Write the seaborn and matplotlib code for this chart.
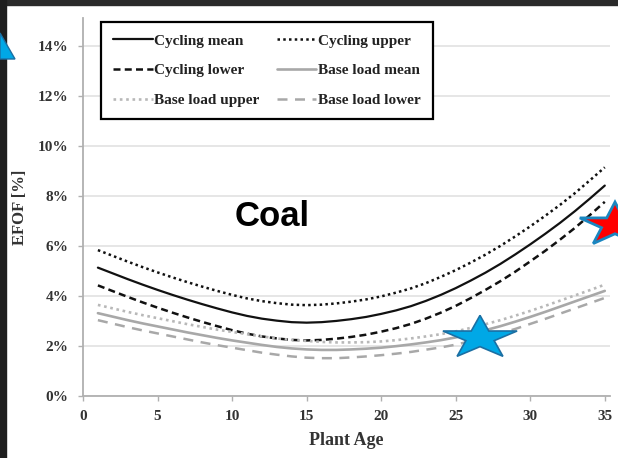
import numpy as np
import pandas as pd
import matplotlib
matplotlib.use("Agg")
import matplotlib.pyplot as plt
from matplotlib.patches import Polygon, Rectangle
from matplotlib.ticker import FuncFormatter
import seaborn as sns

# ---------------- data ----------------
ages = list(range(1, 36))
cycling_mean = [5.12, 4.89, 4.66, 4.44, 4.23, 4.03, 3.84, 3.66, 3.49, 3.33,
                3.19, 3.08, 3.00, 2.94, 2.92, 2.94, 2.99, 3.06, 3.15, 3.27,
                3.41, 3.58, 3.79, 4.03, 4.30, 4.60, 4.92, 5.27, 5.65, 6.05,
                6.47, 6.91, 7.38, 7.88, 8.40]
cycling_upper = [5.82, 5.59, 5.36, 5.14, 4.93, 4.73, 4.54, 4.36, 4.19, 4.03,
                 3.89, 3.78, 3.70, 3.64, 3.62, 3.64, 3.69, 3.76, 3.85, 3.97,
                 4.12, 4.29, 4.50, 4.75, 5.02, 5.32, 5.64, 5.99, 6.37, 6.77,
                 7.19, 7.63, 8.10, 8.61, 9.13]
cycling_lower = [4.41, 4.18, 3.95, 3.73, 3.52, 3.32, 3.13, 2.95, 2.78, 2.62,
                 2.48, 2.37, 2.29, 2.23, 2.21, 2.23, 2.28, 2.35, 2.44, 2.56,
                 2.70, 2.87, 3.08, 3.32, 3.59, 3.90, 4.23, 4.58, 4.96, 5.37,
                 5.79, 6.24, 6.71, 7.22, 7.75]
base_mean = [3.30, 3.16, 3.02, 2.89, 2.77, 2.65, 2.53, 2.42, 2.31, 2.21,
             2.12, 2.03, 1.95, 1.89, 1.85, 1.83, 1.83, 1.85, 1.88, 1.92,
             1.98, 2.05, 2.13, 2.22, 2.33, 2.47, 2.62, 2.78, 2.96, 3.15,
             3.35, 3.56, 3.77, 3.98, 4.19]
base_upper = [3.63, 3.49, 3.35, 3.22, 3.10, 2.98, 2.86, 2.75, 2.64, 2.55,
              2.46, 2.37, 2.29, 2.23, 2.19, 2.15, 2.13, 2.13, 2.14, 2.17,
              2.22, 2.29, 2.37, 2.46, 2.57, 2.71, 2.86, 3.02, 3.20, 3.39,
              3.59, 3.80, 4.01, 4.22, 4.44]
base_lower = [3.02, 2.88, 2.74, 2.61, 2.49, 2.37, 2.25, 2.13, 2.02, 1.92,
              1.82, 1.72, 1.64, 1.57, 1.52, 1.50, 1.50, 1.53, 1.57, 1.62,
              1.68, 1.75, 1.84, 1.93, 2.04, 2.18, 2.33, 2.49, 2.67, 2.87,
              3.07, 3.28, 3.49, 3.70, 3.91]

x_ticks = [0, 5, 10, 15, 20, 25, 30, 35]
y_ticks = [0, 2, 4, 6, 8, 10, 12, 14]
x_label = "Plant Age"
y_label = "EFOF [%]"
title_text = "Coal"

df = pd.DataFrame({
    "age": ages,
    "Cycling mean": cycling_mean,
    "Cycling upper": cycling_upper,
    "Cycling lower": cycling_lower,
    "Base load mean": base_mean,
    "Base load upper": base_upper,
    "Base load lower": base_lower,
})

# ---------------- style ----------------
sns.set_theme(style="white")
plt.rcParams["font.family"] = ["Liberation Serif", "DejaVu Serif"]

W, H = 618, 458
fig = plt.figure(figsize=(W / 100, H / 100), dpi=100)
ax_left, ax_right, ax_top, ax_bottom = 83, 610, 18, 395.7
ax = fig.add_axes([ax_left / W, 1 - ax_bottom / H, (ax_right - ax_left) / W, (ax_bottom - ax_top) / H])

black = "#111111"
gray = "#a8a8a8"
lgray = "#b8b8b8"
specs = [
    ("Cycling mean", black, "-", 1.6),
    ("Cycling upper", black, (0, (1.0, 1.3)), 1.8),
    ("Cycling lower", black, (0, (2.8, 1.7)), 1.8),
    ("Base load mean", gray, "-", 1.9),
    ("Base load upper", lgray, (0, (1.0, 1.4)), 1.9),
    ("Base load lower", gray, (0, (4.0, 3.0)), 1.8),
]
handles = {}
for name, color, ls, lw in specs:
    sns.lineplot(data=df, x="age", y=name, ax=ax, color=color, linestyle=ls,
                 linewidth=lw, legend=False)
    handles[name] = ax.lines[-1]

ax.set_xlim(0, 35.35)
ax.set_ylim(0, 15.1)
ax.set_xticks(x_ticks)
ax.set_yticks(y_ticks)
ax.yaxis.set_major_formatter(FuncFormatter(lambda v, p: f"{v:.0f}%"))
ax.grid(axis="y", color="#e4e4e4", linewidth=1.3)
ax.grid(axis="x", visible=False)
for s in ["top", "right"]:
    ax.spines[s].set_visible(False)
for s in ["left", "bottom"]:
    ax.spines[s].set_color("#b0b0b0")
    ax.spines[s].set_linewidth(1.3)
ax.tick_params(axis="both", which="major", direction="out", length=3.5, width=1.0,
               color="#b0b0b0", labelsize=11, labelcolor="#333333", pad=7,
               left=True, bottom=True)
for lab in ax.get_xticklabels() + ax.get_yticklabels():
    lab.set_fontweight("bold")

ax.set_xlabel(x_label, fontsize=13, fontweight="bold", color="#333333", labelpad=6)
ax.set_ylabel(y_label, fontsize=12, fontweight="bold", color="#333333", labelpad=7)

ax.text(0.359, 0.475, title_text, transform=ax.transAxes, ha="center", va="center",
        fontsize=25, fontweight="bold", color="black", family=["Liberation Sans", "DejaVu Sans"])

order = ["Cycling mean", "Cycling lower", "Base load upper",
         "Cycling upper", "Base load mean", "Base load lower"]
leg = ax.legend([handles[n] for n in order], order, ncol=2, loc="upper left",
                bbox_to_anchor=(0.034, 0.99), borderaxespad=0, frameon=True, fancybox=False,
                edgecolor="black", framealpha=1, handlelength=2.6, handletextpad=0.1,
                columnspacing=1.1, labelspacing=1.05, borderpad=0.8,
                prop={"family": ["Liberation Serif"], "weight": "bold", "size": 11})
leg.get_frame().set_linewidth(1.6)
for t in leg.get_texts():
    t.set_color("#222222")

# ---------------- decorations (frame + pasted stars) ----------------
def px(x, y):
    return (x / W, 1 - y / H)

fig.add_artist(Rectangle(px(0, 5), 1, 5 / H, transform=fig.transFigure,
                         color="#2a2a2a", zorder=10))
fig.add_artist(Rectangle(px(0, H), 6 / W, 1, transform=fig.transFigure,
                         color="#1e1e1e", zorder=10))

def star(cx, cy, R, sy):
    pts = []
    for k in range(10):
        ang = np.pi / 2 + k * np.pi / 5
        r = R if k % 2 == 0 else 0.382 * R
        pts.append(px(cx + r * np.cos(ang), cy - r * np.sin(ang) * sy))
    return pts

fig.add_artist(Polygon(star(480, 338, 39, 0.58), closed=True, transform=fig.transFigure,
                       facecolor="#00a8e6", edgecolor="#1b6fa3", linewidth=1.2, zorder=11))
fig.add_artist(Polygon(star(615, 225, 37, 0.62), closed=True, transform=fig.transFigure,
                       facecolor="#ff0000", edgecolor="#1a86c0", linewidth=2.0, zorder=11))
fig.add_artist(Polygon([px(0, 33), px(15, 59), px(0, 59)], closed=True,
                       transform=fig.transFigure, facecolor="#00a8e6",
                       edgecolor="#1b6fa3", linewidth=1.0, zorder=11))

fig.savefig("out.png", dpi=100)
